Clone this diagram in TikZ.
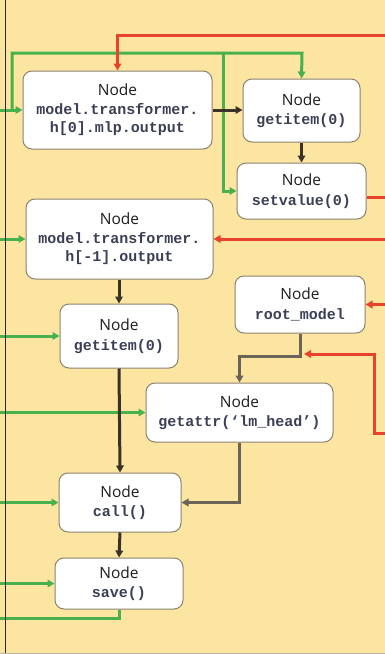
\documentclass[tikz,border=0pt]{standalone}
\usepackage{fontspec}
\setmainfont{Open Sans}
\newfontfamily\codef{Liberation Mono}
\usetikzlibrary{arrows.meta}
\definecolor{bg}{HTML}{FBE5A0}
\definecolor{grn}{HTML}{48B04C}
\definecolor{rd}{HTML}{E8422A}
\definecolor{dk}{HTML}{3A3128}
\definecolor{gy}{HTML}{6B6258}
\definecolor{codec}{HTML}{3A3F55}
\definecolor{bord}{HTML}{8C8270}
\definecolor{nodec}{HTML}{1E1E1E}
\newcommand{\cd}[1]{{\codef\bfseries\fontsize{15}{18.5}\selectfont\color{codec}#1}}
\begin{document}
\begin{tikzpicture}[x=1pt,y=-1pt,
  box/.style={draw=bord, line width=1pt, fill=white, rounded corners=9pt, align=center,
    inner sep=0pt, text=nodec, font=\fontsize{15.5}{18.5}\selectfont},
  tip/.style={-{Triangle[length=7pt,width=7.5pt]}},
  gline/.style={draw=grn, line width=3pt},
  garr/.style={gline, tip},
  rline/.style={draw=rd, line width=3pt},
  rarr/.style={rline, tip},
  darr/.style={draw=dk, line width=3pt, tip},
  gyarr/.style={draw=gy, line width=3pt, tip}
]
\fill[bg] (0,0) rectangle (385,654);
\useasboundingbox (0,0) rectangle (385,654);

% nodes
\node[box, minimum width=189pt, minimum height=78pt] (n1) at (117.5,110) {Node\\\cd{model.transformer.}\\\cd{h[0].mlp.output}};
\node[box, minimum width=117pt, minimum height=63pt] (n2) at (301.5,110.5) {Node\\[1pt]\cd{getitem(0)}};
\node[box, minimum width=129pt, minimum height=56pt] (n3) at (301.5,191) {Node\\[1pt]\cd{setvalue(0)}};
\node[box, minimum width=187pt, minimum height=80pt] (n4) at (119.5,239) {Node\\\cd{model.transformer.}\\\cd{h[-1].output}};
\node[box, minimum width=118pt, minimum height=64pt] (n5) at (119,336) {Node\\[1pt]\cd{getitem(0)}};
\node[box, minimum width=130pt, minimum height=57pt] (n6) at (300,304.5) {Node\\[1pt]\cd{root\_model}};
\node[box, minimum width=187pt, minimum height=59pt] (n7) at (239.5,412.5) {Node\\[1pt]\cd{getattr(‘lm\_head’)}};
\node[box, minimum width=122pt, minimum height=59pt] (n8) at (120,502.5) {Node\\[1pt]\cd{call()}};
\node[box, minimum width=128pt, minimum height=51pt] (n9) at (119,583.5) {Node\\[1pt]\cd{save()}};

% coordinates
\coordinate (g1) at (0,110);
\coordinate (j1) at (12,110);
\coordinate (t1) at (12,53);
\coordinate (t2) at (302,53);
\coordinate (t3) at (223,53);
\coordinate (g4) at (0,239);
\coordinate (g5) at (0,336);
\coordinate (g7) at (0,412.5);
\coordinate (g8) at (0,502.5);
\coordinate (g9) at (0,583.5);
\coordinate (o9) at (0,618);
\coordinate (r1) at (385,35);
\coordinate (r2) at (385,197);
\coordinate (r4) at (385,239);
\coordinate (r6) at (385,304.5);
\coordinate (r5a) at (385,433);
\coordinate (r5b) at (374,354);
\coordinate (r5c) at (304,354);

% green
\draw[garr] (g1) -- (n1.west);
\draw[garr] (j1) -- (t1) -- (t2) -- (n2.north);
\draw[garr] (t3) |- (n3.west);
\draw[garr] (g4) -- (n4.west);
\draw[garr] (g5) -- (n5.west);
\draw[garr] (g7) -- (n7.west);
\draw[garr] (g8) -- (n8.west);
\draw[garr] (g9) -- (n9.west);
\draw[gline] (n9.south) |- (o9);

% red
\draw[rarr] (r1) -| (n1.north);
\draw[rline] (n3.east |- r2) -- (r2);
\draw[rarr] (r4) -- (n4.east);
\draw[rarr] (r6) -- (n6.east);
\draw[rarr] (r5a) -| (r5b) -- (r5c);

% dark
\draw[darr] (n1.east) -- (n2.west |- n1.east);
\draw[darr] (n2.south) -- (n3.north);
\draw[darr] (n4.south -| n5.north) -- (n5.north);
\draw[darr] (n5.south) -- (n8.north);
\draw[darr] (n8.south) -- (n9.north);

% gray
\draw[gyarr] (n6.south) -- ++(0,23) -| (n7.north);
\draw[gyarr] (n7.south) |- (n8.east);

% frame
\draw[line width=1.5pt, black!85] (5.5,0) -- (5.5,654);
\draw[line width=0.8pt, color=bord!60] (0,653.5) -- (385,653.5);
\end{tikzpicture}
\end{document}
